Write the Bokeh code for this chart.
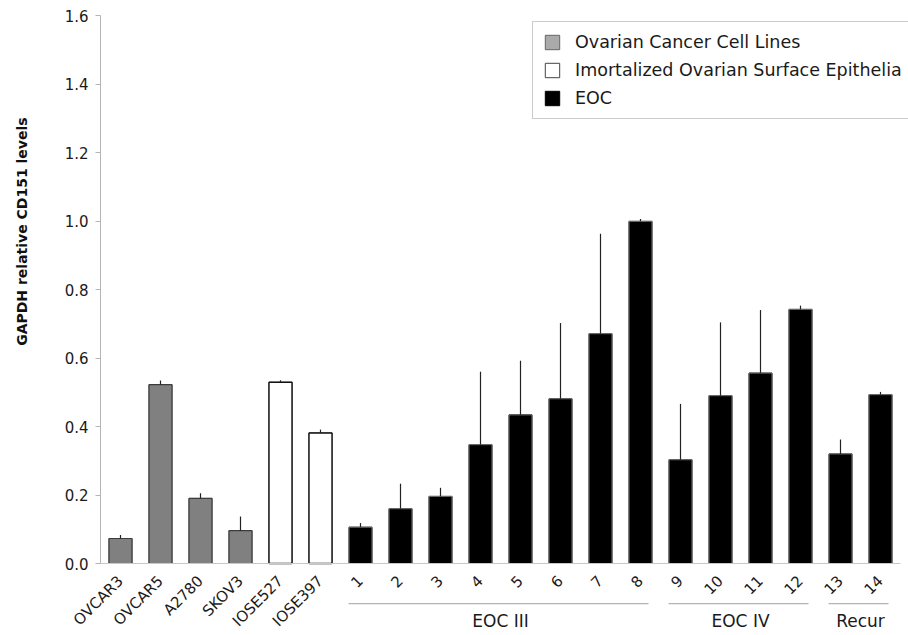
import math
import numpy as np
from bokeh.plotting import figure
from bokeh.models import (Range1d, FixedTicker, Label, Legend, LegendItem,
                          ColumnDataSource, NumeralTickFormatter)
from bokeh.core.properties import value
from bokeh.embed import file_html
from bokeh.resources import INLINE

# ---------------- data ----------------
labels = ["OVCAR3", "OVCAR5", "A2780", "SKOV3", "IOSE527", "IOSE397",
          "1", "2", "3", "4", "5", "6", "7", "8", "9", "10", "11", "12", "13", "14"]
values = [0.073, 0.522, 0.190, 0.096, 0.529, 0.381,
          0.106, 0.160, 0.196, 0.347, 0.434, 0.481, 0.671, 0.999,
          0.303, 0.490, 0.556, 0.742, 0.320, 0.493]
errors = [0.010, 0.012, 0.015, 0.041, 0.006, 0.010,
          0.012, 0.073, 0.025, 0.213, 0.158, 0.221, 0.292, 0.007,
          0.163, 0.214, 0.184, 0.011, 0.042, 0.008]
kinds = ["cell"] * 4 + ["iose"] * 2 + ["eoc"] * 14

group_names = ["EOC III", "EOC IV", "Recur"]
group_first = ["1", "9", "13"]
group_last = ["8", "12", "14"]

y_ticks = [0.0, 0.2, 0.4, 0.6, 0.8, 1.0, 1.2, 1.4, 1.6]
legend_labels = {"cell": "Ovarian Cancer Cell Lines",
                 "iose": "Imortalized Ovarian Surface Epithelia",
                 "eoc": "EOC"}
y_title = "GAPDH relative CD151 levels"

FONT = "DejaVu Sans"

# ---------------- figure ----------------
n = len(labels)
xs = list(range(n))

# the frame covers the whole canvas; the axes are pinned with fixed_location
p = figure(width=908, height=635,
           x_range=Range1d(-3.0, 19.7), y_range=Range1d(-0.2102, 1.6438),
           output_backend="svg", toolbar_location=None,
           min_border=0, min_border_left=0, min_border_right=0,
           min_border_top=0, min_border_bottom=0)
p.xgrid.visible = False
p.ygrid.visible = False
p.outline_line_color = None
p.background_fill_color = "white"
p.border_fill_color = "white"

# y axis
ay = p.yaxis[0]
ay.fixed_location = -0.5
ay.ticker = FixedTicker(ticks=y_ticks)
ay.bounds = (0, 1.6)
ay.formatter = NumeralTickFormatter(format="0.0")
ay.minor_tick_line_color = None
ay.axis_line_color = "#b4b4b4"
ay.major_tick_line_color = "#b4b4b4"
ay.major_tick_out = 5
ay.major_tick_in = 0
ay.major_label_standoff = 7
ay.major_label_text_font = FONT
ay.major_label_text_font_size = "15px"
ay.major_label_text_color = "#1a1a1a"

# x axis (line at zero, rotated category labels)
ax = p.xaxis[0]
ax.fixed_location = 0
ax.bounds = (-0.5, n - 0.5)
ax.ticker = FixedTicker(ticks=xs)
ax.major_label_overrides = {i: lab for i, lab in zip(xs, labels)}
ax.major_label_orientation = math.pi / 4
ax.minor_tick_line_color = None
ax.major_tick_line_color = None
ax.major_tick_out = 0
ax.major_tick_in = 0
ax.major_label_standoff = 15
ax.axis_line_color = "#c8c8c8"
ax.major_label_text_font = FONT
ax.major_label_text_font_size = "15px"
ax.major_label_text_color = "#1a1a1a"

# bars
styles = {
    "cell": dict(fill_color="#808080", line_color="#3c3c3c", line_width=1.2),
    "iose": dict(fill_color="white", line_color="#111111", line_width=1.4),
    "eoc": dict(fill_color="black", line_color="#777777", line_width=1.0),
}
swatch = {
    "cell": dict(fill_color="#aaaaaa", line_color="#666666", line_width=1.0),
    "iose": dict(fill_color="white", line_color="#444444", line_width=1.0),
    "eoc": dict(fill_color="black", line_color="black", line_width=1.0),
}
items = []
for kind, st in styles.items():
    idx = [i for i, k in enumerate(kinds) if k == kind]
    src = ColumnDataSource(dict(x=[xs[i] for i in idx], top=[values[i] for i in idx]))
    # legend swatch renderer (same geometry, fully covered by the visible bars)
    r_leg = p.vbar(x="x", top="top", bottom=0, width=0.575, source=src, **swatch[kind])
    p.vbar(x="x", top="top", bottom=0, width=0.575, source=src, **st)
    items.append(LegendItem(label=legend_labels[kind], renderers=[r_leg]))

# error bars (upper only)
tops = [v + e for v, e in zip(values, errors)]
p.segment(x0=xs, y0=values, x1=xs, y1=tops, line_color="#222222", line_width=1.2)

# group lines and labels
gx0, gx1, gxc = [], [], []
for a, b in zip(group_first, group_last):
    ia, ib = labels.index(a), labels.index(b)
    gx0.append(xs[ia] - 0.3)
    gx1.append(xs[ib] + 0.2)
    gxc.append((xs[ia] + xs[ib]) / 2)
p.segment(x0=gx0, y0=[-0.117] * 3, x1=gx1, y1=[-0.117] * 3,
          line_color="#b4b4b4", line_width=1.2)
p.text(x=gxc, y=[-0.169] * 3, text=group_names,
       text_align="center", text_baseline="middle",
       text_font=value(FONT), text_font_size="17px", text_color="#1a1a1a")

# y axis title
p.add_layout(Label(x=-2.4625, y=0.969, text=y_title, angle=math.pi / 2,
                   text_align="center", text_baseline="middle",
                   text_font=FONT, text_font_size="14px",
                   text_font_style="bold", text_color="#111111"))

legend = Legend(items=items, location=(532, 516), orientation="vertical",
                padding=10, spacing=8, glyph_width=18, glyph_height=18,
                label_height=20, label_standoff=14, margin=0,
                label_text_font=FONT, label_text_font_size="17.5px",
                label_text_color="#1a1a1a",
                border_line_color="#999999", border_line_width=1,
                background_fill_color="white", background_fill_alpha=1)
p.add_layout(legend)

open("out.html", "w").write(file_html(p, INLINE))
